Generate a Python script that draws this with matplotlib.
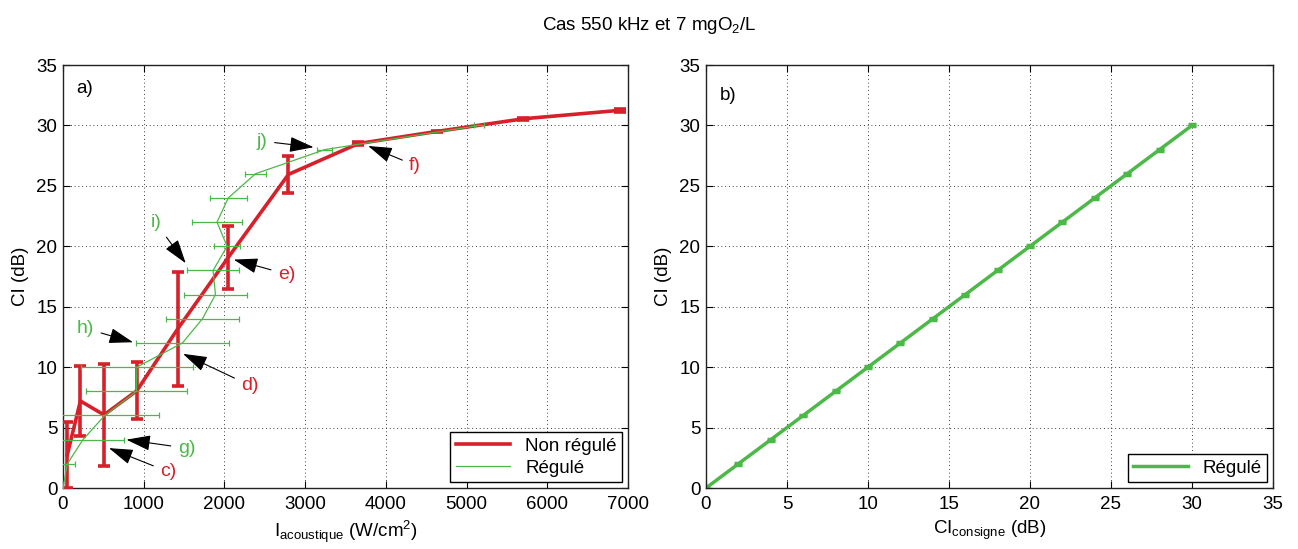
import numpy as np
import matplotlib
matplotlib.use('Agg')
import matplotlib.pyplot as plt

plt.rcParams['font.family'] = ['Liberation Sans', 'DejaVu Sans']
plt.rcParams['mathtext.default'] = 'regular'
plt.rcParams['font.size'] = 13.5

RED = '#d8202a'
GREEN = '#4cb848'
FS = 13.5

# a) non regule : intensite (W/cm2), CI (dB), erreur CI
nr_intensity = [54, 216, 509, 915, 1420, 2050, 2794, 3660, 4630, 5703, 6900]
nr_ci = [2.75, 7.2, 6.05, 8.05, 13.15, 19.1, 25.95, 28.5, 29.5, 30.55, 31.25]
nr_ci_err = [2.75, 2.9, 4.25, 2.35, 4.75, 2.6, 1.5, 0.1, 0.05, 0.1, 0.1]

# a) regule : consigne CI, intensite moyenne, erreur intensite
reg_ci = [0, 2, 4, 6, 8, 10, 12, 14, 16, 18, 20, 22, 24, 26, 28, 30]
reg_intensity = [0, 54, 248, 517, 909, 915, 1480, 1728, 1889, 1860, 2033, 1909, 2048, 2385, 3244, 5157]
reg_intensity_err = [0, 99, 509, 673, 626, 692, 574, 450, 388, 320, 163, 306, 231, 130, 93, 62]

# b) regule : CI consigne vs CI mesure
cons = [0, 2, 4, 6, 8, 10, 12, 14, 16, 18, 20, 22, 24, 26, 28, 30]
cons_ci = [0, 2, 4, 6, 8, 10, 12, 14, 16, 18, 20, 22, 24, 26, 28, 30]
cons_err = [0.08] * len(cons)

# annotations: (texte, couleur, pointe (x, y), texte (x, y))
notes = [
    ('c)', RED, (570, 3.3), (1302, 1.35)),
    ('g)', GREEN, (786, 4.0), (1530, 3.3)),
    ('d)', RED, (1488, 11.1), (2314, 8.5)),
    ('h)', GREEN, (868, 12.06), (281, 13.2)),
    ('e)', RED, (2116, 18.9), (2769, 17.7)),
    ('i)', GREEN, (1521, 18.6), (1149, 21.95)),
    ('j)', GREEN, (3105, 28.2), (2470, 28.7)),
    ('f)', RED, (3781, 28.3), (4360, 26.7)),
]


def style_axes(ax):
    ax.tick_params(direction='in', length=5, width=0.8, top=True, right=True, labelsize=FS)
    ax.tick_params(axis='x', pad=6)
    ax.tick_params(axis='y', pad=4)
    ax.grid(True, color='k', linestyle=(0, (1, 3.5)), linewidth=0.6)
    for s in ax.spines.values():
        s.set_linewidth(1.0)
        s.set_color('#222222')


fig = plt.figure(figsize=(12.98, 5.49), dpi=100)
ax1 = fig.add_axes([0.0485, 0.1111, 0.4353, 0.7705])
ax2 = fig.add_axes([0.5439, 0.1111, 0.4368, 0.7705])

# PLOT a)
eb_nr = ax1.errorbar(nr_intensity, nr_ci, yerr=nr_ci_err, color=RED, lw=2.6,
                     elinewidth=2.6, capsize=4.2, capthick=2.6, zorder=3)
eb_reg = ax1.errorbar(reg_intensity, reg_ci, xerr=reg_intensity_err, color=GREEN, lw=0.9,
                      elinewidth=0.9, capsize=2, capthick=0.9, zorder=4)
ax1.set_xlim(0, 7000)
ax1.set_ylim(0, 35)
ax1.set_xticks(np.arange(0, 7001, 1000))
ax1.set_yticks(np.arange(0, 36, 5))
ax1.set_xlabel(r'I$_{acoustique}$ (W/cm$^2$)', fontsize=FS, labelpad=4)
ax1.set_ylabel('CI (dB)', fontsize=FS, labelpad=5)
style_axes(ax1)
ax1.text(0.023, 0.945, 'a)', transform=ax1.transAxes, fontsize=FS, va='center')

for label, col, tip, pos in notes:
    ax1.annotate(label, xy=tip, xytext=pos, color=col, fontsize=14, ha='center', va='center',
                 zorder=6,
                 arrowprops=dict(arrowstyle='-|>,head_length=1.0,head_width=0.32', color='k',
                                 lw=0.8, mutation_scale=15, shrinkA=3, shrinkB=0))

leg = ax1.legend([eb_nr[0], eb_reg[0]], ['Non régulé', 'Régulé'], loc='lower right',
                 fontsize=FS, fancybox=False, edgecolor='k', framealpha=1,
                 handlelength=2.9, borderaxespad=0.3, borderpad=0.3, labelspacing=0.25)
leg.get_frame().set_linewidth(1.0)

# PLOT b)
eb_b = ax2.errorbar(cons, cons_ci, yerr=cons_err, color=GREEN, lw=2.5,
                    elinewidth=2.5, capsize=2.8, capthick=2.5)
ax2.set_xlim(0, 35)
ax2.set_ylim(0, 35)
ax2.set_xticks(np.arange(0, 36, 5))
ax2.set_yticks(np.arange(0, 36, 5))
ax2.set_xlabel(r'CI$_{consigne}$ (dB)', fontsize=FS, labelpad=4)
ax2.set_ylabel('CI (dB)', fontsize=FS, labelpad=5)
style_axes(ax2)
ax2.text(0.025, 0.927, 'b)', transform=ax2.transAxes, fontsize=FS, va='center')

leg2 = ax2.legend([eb_b[0]], ['Régulé'], loc='lower right', fontsize=FS, fancybox=False,
                  edgecolor='k', framealpha=1, handlelength=2.9, borderaxespad=0.3,
                  borderpad=0.3)
leg2.get_frame().set_linewidth(1.0)

fig.text(0.5, 0.954, r'Cas 550 kHz et 7 mgO$_2$/L', ha='center', va='center', fontsize=FS)

fig.savefig('out.png', dpi=100)
